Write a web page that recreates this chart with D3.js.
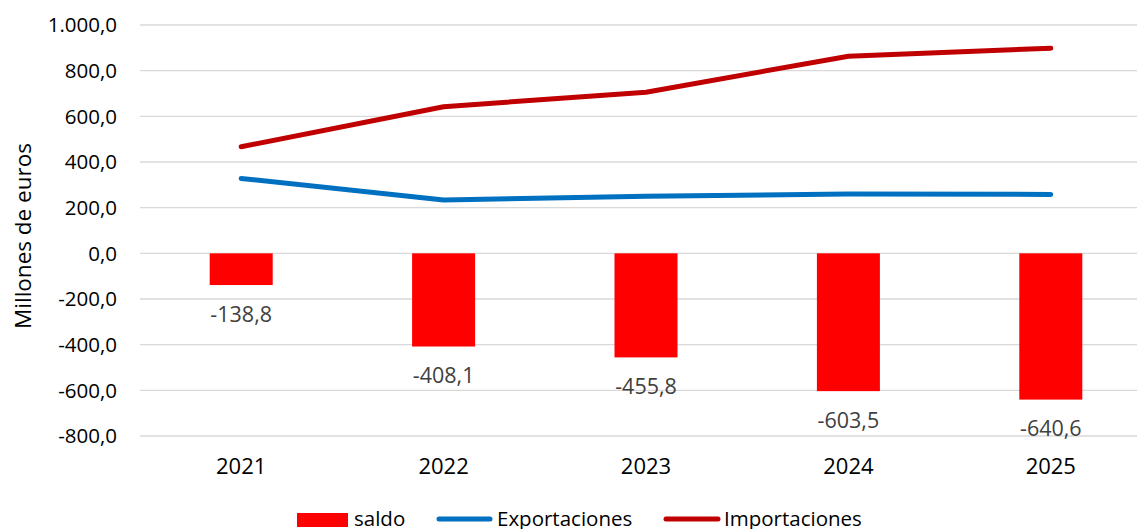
<!DOCTYPE html>
<html>
<head>
<meta charset="utf-8">
<script src="https://cdn.jsdelivr.net/npm/d3@7"></script>
<style>
  body { margin: 0; background: #fff; }
  svg { display: block; font-family: "Open Sans", sans-serif; }
</style>
</head>
<body>
<svg id="chart" width="1137" height="529"></svg>
<script>
const years = ['2021', '2022', '2023', '2024', '2025'];
const exportaciones = [328.0, 234.0, 250.0, 260.0, 258.0];
const importaciones = [466.8, 642.1, 705.8, 863.5, 898.6];
const saldo = [-138.8, -408.1, -455.8, -603.5, -640.6];
const yTicks = [-800, -600, -400, -200, 0, 200, 400, 600, 800, 1000];

const svg = d3.select('#chart');

const x = d3.scaleBand()
    .domain(years)
    .range([140, 1152]);

const y = d3.scaleLinear()
    .domain([-800, 1000])
    .range([436, 25]);

const fmt = v => d3.format(',.1f')(v).replace(/,/g, '#').replace('.', ',').replace(/#/g, '.');
const fmtNeg = v => (v < 0 ? '-' : '') + fmt(Math.abs(v));

// Gridlines
svg.append('g')
    .selectAll('line')
    .data(yTicks)
    .join('line')
        .attr('x1', 140)
        .attr('x2', 1137)
        .attr('y1', d => y(d))
        .attr('y2', d => y(d))
        .attr('stroke', '#d9d9d9')
        .attr('stroke-width', 1.3);

// Y tick labels
svg.append('g')
    .selectAll('text')
    .data(yTicks)
    .join('text')
        .attr('x', 117)
        .attr('y', d => y(d))
        .attr('dy', '0.36em')
        .attr('text-anchor', 'end')
        .attr('font-size', 20.5)
        .attr('fill', '#000')
        .text(d => fmtNeg(d));

// Y axis title
svg.append('text')
    .attr('transform', `translate(31, 236) rotate(-90)`)
    .attr('text-anchor', 'middle')
    .attr('font-size', 22.5)
    .attr('fill', '#000')
    .text('Millones de euros');

// Bars
const barW = 63;
svg.append('g')
    .selectAll('rect')
    .data(saldo)
    .join('rect')
        .attr('x', (d, i) => x(years[i]) + x.bandwidth() / 2 - barW / 2)
        .attr('y', d => y(Math.max(0, d)))
        .attr('width', barW)
        .attr('height', d => Math.abs(y(d) - y(0)))
        .attr('fill', '#ff0000');

// Bar labels
svg.append('g')
    .selectAll('text')
    .data(saldo)
    .join('text')
        .attr('x', (d, i) => x(years[i]) + x.bandwidth() / 2)
        .attr('y', d => y(d) + 29)
        .attr('dy', '0.36em')
        .attr('text-anchor', 'middle')
        .attr('font-size', 21.5)
        .attr('fill', '#404040')
        .text(d => fmtNeg(d));

// Lines
const line = d3.line()
    .x((d, i) => x(years[i]) + x.bandwidth() / 2)
    .y(d => y(d));

svg.append('path')
    .attr('d', line(exportaciones))
    .attr('fill', 'none')
    .attr('stroke', '#0070c0')
    .attr('stroke-width', 5)
    .attr('stroke-linecap', 'round')
    .attr('stroke-linejoin', 'round');

svg.append('path')
    .attr('d', line(importaciones))
    .attr('fill', 'none')
    .attr('stroke', '#c00000')
    .attr('stroke-width', 5)
    .attr('stroke-linecap', 'round')
    .attr('stroke-linejoin', 'round');

// X labels
svg.append('g')
    .selectAll('text')
    .data(years)
    .join('text')
        .attr('x', d => x(d) + x.bandwidth() / 2)
        .attr('y', 466)
        .attr('dy', '0.36em')
        .attr('text-anchor', 'middle')
        .attr('font-size', 22)
        .attr('fill', '#000')
        .text(d => d);

// Legend
const legend = svg.append('g');
legend.append('rect')
    .attr('x', 297).attr('y', 513).attr('width', 51).attr('height', 14)
    .attr('fill', '#ff0000');
legend.append('text')
    .attr('x', 354).attr('y', 519).attr('dy', '0.36em')
    .attr('font-size', 20.5).text('saldo');
legend.append('line')
    .attr('x1', 439).attr('x2', 490).attr('y1', 519).attr('y2', 519)
    .attr('stroke', '#0070c0').attr('stroke-width', 5).attr('stroke-linecap', 'round');
legend.append('text')
    .attr('x', 497).attr('y', 519).attr('dy', '0.36em')
    .attr('font-size', 20.5).text('Exportaciones');
legend.append('line')
    .attr('x1', 666).attr('x2', 718).attr('y1', 519).attr('y2', 519)
    .attr('stroke', '#c00000').attr('stroke-width', 5).attr('stroke-linecap', 'round');
legend.append('text')
    .attr('x', 724).attr('y', 519).attr('dy', '0.36em')
    .attr('font-size', 20.5).text('Importaciones');
</script>
</body>
</html>
